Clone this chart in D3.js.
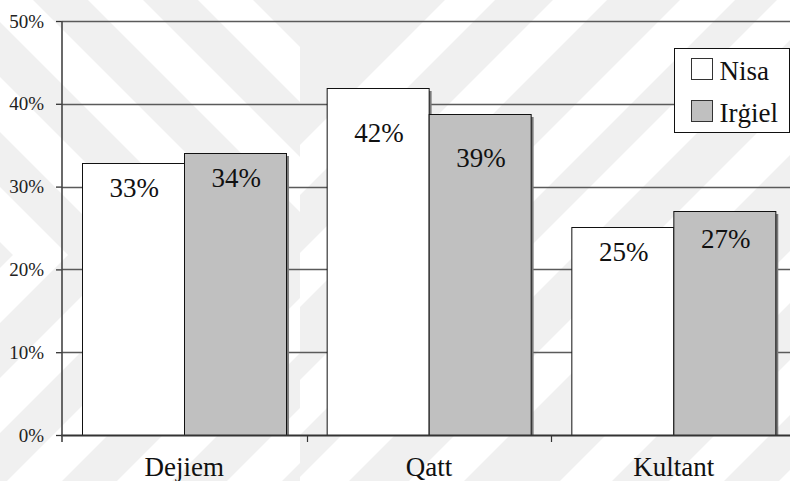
<!DOCTYPE html>
<html><head><meta charset="utf-8">
<script src="https://cdn.jsdelivr.net/npm/d3@7"></script>
<style>body{margin:0;background:#fff} svg{display:block} svg text{font-family:"Liberation Serif","DejaVu Serif",serif !important;}</style>
</head><body><svg id="c" width="790" height="481"></svg>
<script>
// ---- data ----
const categories = ["Dejiem", "Qatt", "Kultant"];
const seriesNames = ["Nisa", "Irġiel"];
const nisaValues = [0.329, 0.419, 0.251];
const irgielValues = [0.341, 0.388, 0.270];
const yTickValues = [0, 0.1, 0.2, 0.3, 0.4, 0.5];

// ---- layout ----
const W = 790, H = 481;
const svg = d3.select("#c");

// ---- background watermark (approximate) ----
const bg = svg.append("g");
bg.append("rect").attr("width", W).attr("height", H).attr("fill", "#f0f0f0");
const defs = svg.append("defs");
defs.append("clipPath").attr("id", "cLT").append("rect").attr("x", 0).attr("y", 0).attr("width", 300).attr("height", 255);
defs.append("clipPath").attr("id", "cLB").append("rect").attr("x", 0).attr("y", 255).attr("width", 300).attr("height", 226);
defs.append("clipPath").attr("id", "cR").append("rect").attr("x", 300).attr("y", 0).attr("width", 490).attr("height", 481);
const BIG = 1200;
function back(a, w) { return [[a, 0], [a + w, 0], [a + w + BIG, BIG], [a + BIG, BIG]]; }
function fwd(a, w) { return [[a, 0], [a + w, 0], [a + w - BIG, BIG], [a - BIG, BIG]]; }
const line = d3.line();
const gLT = bg.append("g").attr("clip-path", "url(#cLT)");
[-462, -352, -242, -132, -22, 88, 198].forEach(a => gLT.append("path").attr("d", line(back(a, 55)) + "Z").attr("fill", "#fff"));
const gLB = bg.append("g").attr("clip-path", "url(#cLB)");
[-462, -352, -242, -132, -22, 88, 198].forEach(a => gLB.append("path").attr("d", line(fwd(a + 510, 55)) + "Z").attr("fill", "#fff"));
const gR = bg.append("g").attr("clip-path", "url(#cR)");
[[445, 50], [553, 54], [680, 55], [777, 53], [890, 55], [1041, 52], [1150, 55], [1260, 55]].forEach(d => gR.append("path").attr("d", line(fwd(d[0], d[1])) + "Z").attr("fill", "#fff"));

// ---- scales ----
const x0 = d3.scaleBand().domain(categories).range([62, 796]).paddingInner(0).paddingOuter(0);
const x1 = d3.scaleBand().domain(seriesNames).range([0, x0.bandwidth()]).paddingInner(0).paddingOuter(0.2);
const y = d3.scaleLinear().domain([0, 0.5]).range([435, 21]);
const fills = { "Nisa": "#ffffff", "Irġiel": "#c0c0c0" };
const fmt = d3.format(".0%");

// ---- gridlines ----
svg.append("g").selectAll("line").data(yTickValues.filter(d => d > 0)).join("line")
  .attr("x1", 62).attr("x2", W).attr("y1", d => Math.round(y(d)) + 0.5).attr("y2", d => Math.round(y(d)) + 0.5)
  .attr("stroke", "#5a5a5a").attr("stroke-width", 1.4);

// ---- y axis ----
const yAxis = d3.axisLeft(y).tickValues(yTickValues).tickFormat(fmt).tickSize(6).tickPadding(12);
const gy = svg.append("g").attr("transform", "translate(62,0)").call(yAxis);
gy.attr("font-family", null).attr("font-size", null);
gy.select(".domain").remove();
gy.selectAll(".tick line").attr("stroke", "#333").attr("stroke-width", 1.3);
gy.selectAll(".tick text").style("font-size", "19px").attr("fill", "#222")
  .attr("dy", null).attr("y", 6);

// ---- bars ----
const rows = categories.map((c, i) => ({ cat: c, vals: [{ s: "Nisa", v: nisaValues[i] }, { s: "Irġiel", v: irgielValues[i] }] }));
const labelOffsets = [[34.5, 34.5], [53.5, 53.5], [33.5, 36.5]];
const groups = svg.append("g").selectAll("g").data(rows).join("g")
  .attr("transform", d => `translate(${x0(d.cat)},0)`);
groups.selectAll("rect.sh").data(d => d.vals).join("rect").attr("class", "sh")
  .attr("x", d => Math.round(x1(d.s)) + 3).attr("y", d => Math.round(y(d.v)) + 3)
  .attr("width", x1.bandwidth()).attr("height", d => y(0) - Math.round(y(d.v)) - 3)
  .attr("fill", "#7a7a7a");
groups.selectAll("rect.bar").data(d => d.vals).join("rect").attr("class", "bar")
  .attr("x", d => Math.round(x1(d.s)) + 0.5).attr("y", d => Math.round(y(d.v)) + 0.5)
  .attr("width", Math.round(x1.bandwidth())).attr("height", d => y(0) - Math.round(y(d.v)))
  .attr("fill", d => fills[d.s]).attr("stroke", "#111").attr("stroke-width", 1);
groups.each(function (d, gi) {
  d3.select(this).selectAll("text.lbl").data(d.vals).join("text").attr("class", "lbl")
    .attr("x", v => x1(v.s) + x1.bandwidth() / 2 + 1)
    .attr("y", (v, si) => y(v.v) + labelOffsets[gi][si])
    .attr("text-anchor", "middle").style("font-size", "27px").attr("fill", "#111")
    .text(v => fmt(v.v));
});

// ---- x axis ----
svg.append("line").attr("x1", 61).attr("x2", W).attr("y1", 435.5).attr("y2", 435.5).attr("stroke", "#333").attr("stroke-width", 2);
svg.append("line").attr("x1", 62).attr("x2", 62).attr("y1", 21).attr("y2", 442).attr("stroke", "#444").attr("stroke-width", 1.6);
svg.append("g").selectAll("line").data(categories.slice(1)).join("line")
  .attr("x1", d => Math.round(x0(d)) + 0.5).attr("x2", d => Math.round(x0(d)) + 0.5)
  .attr("y1", 435).attr("y2", 442).attr("stroke", "#333").attr("stroke-width", 1.2);
svg.append("g").selectAll("text").data(categories).join("text")
  .attr("x", d => x0(d) + x0.bandwidth() / 2).attr("y", 476)
  .attr("text-anchor", "middle").style("font-size", "27px").attr("fill", "#111")
  .text(d => d);

// ---- legend ----
const lg = svg.append("g").attr("transform", "translate(674.5,48.5)");
lg.append("rect").attr("width", 115).attr("height", 84).attr("fill", "#fff").attr("stroke", "#111").attr("stroke-width", 1);
const li = lg.selectAll("g").data(seriesNames).join("g").attr("transform", (d, i) => `translate(17,${10 + i * 42})`);
li.append("rect").attr("width", 21).attr("height", 21).attr("fill", d => fills[d]).attr("stroke", "#333").attr("stroke-width", 1);
li.append("text").attr("x", 28).attr("y", 21.5).style("font-size", "27px").attr("fill", "#111").text(d => d);
</script></body></html>
